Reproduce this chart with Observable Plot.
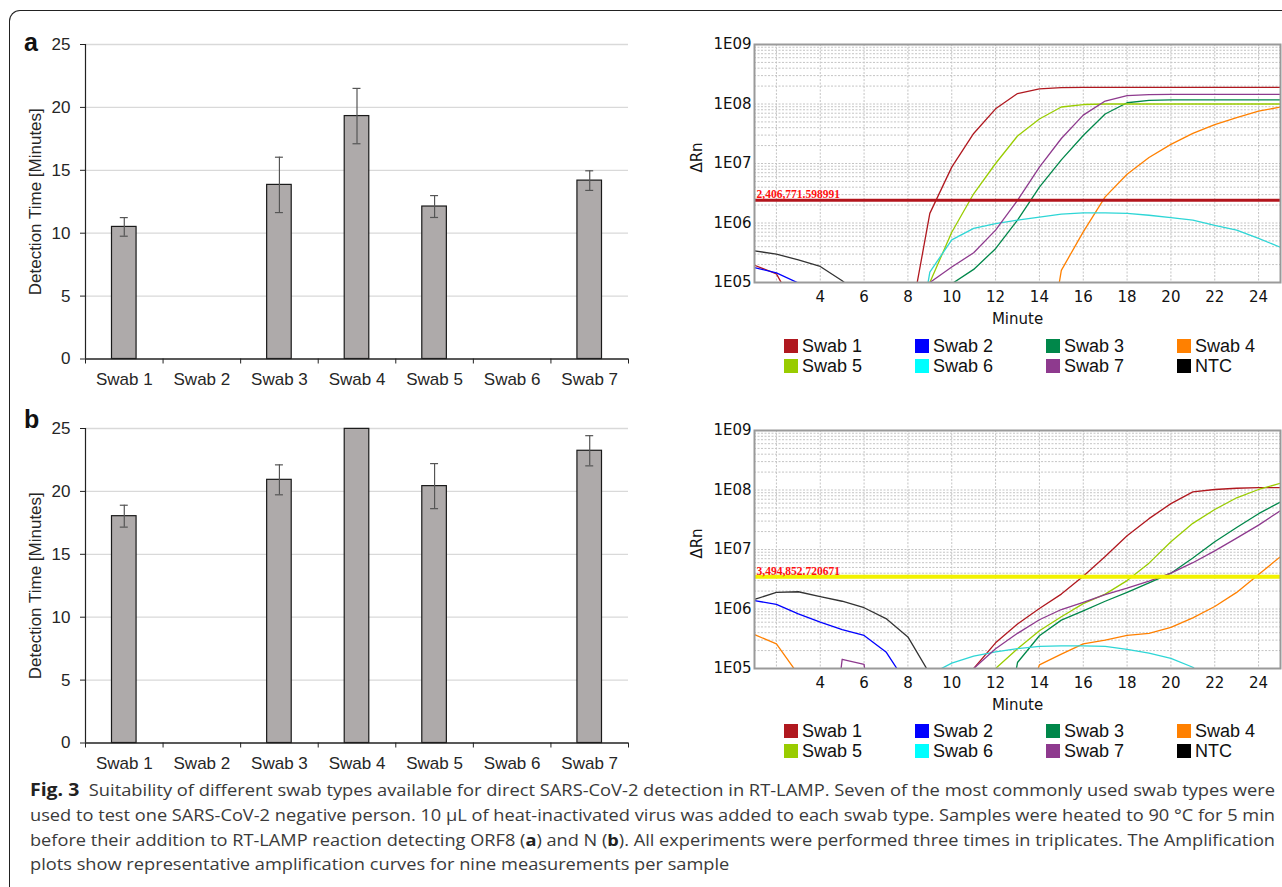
<!DOCTYPE html>
<html><head><meta charset="utf-8">
<script src="https://cdn.jsdelivr.net/npm/d3@7"></script>
<script src="https://cdn.jsdelivr.net/npm/@observablehq/plot@0.6"></script>
<style>
body{margin:0;background:#fff;}
#page{position:relative;width:1282px;height:887px;overflow:hidden;background:#fff;font-family:"Liberation Sans",Arial,sans-serif;}
.border{position:absolute;left:9px;top:10px;width:1300px;height:900px;border-left:1.3px solid #222;border-top:1.3px solid #222;border-top-left-radius:11px;}
.letter{position:absolute;font-weight:bold;font-size:25px;color:#111;font-family:"Liberation Sans",Arial,sans-serif;line-height:1;}
.leg{position:absolute;font-size:18px;color:#111;line-height:20px;white-space:nowrap;font-family:"Liberation Sans",Arial,sans-serif;}
.leg span.sw{display:inline-block;width:14px;height:14px;vertical-align:-1px;margin-right:4px;}
.cap{position:absolute;left:30px;white-space:nowrap;font-family:"Open Sans",sans-serif;font-size:16px;color:#3a3a3a;transform-origin:0 50%;line-height:20px;}
.cap b{color:#222;}
</style></head><body><div id="page"><div class="border"></div></div>
<script>
// ---------- Bar chart data ----------
const swabs = ["Swab 1", "Swab 2", "Swab 3", "Swab 4", "Swab 5", "Swab 6", "Swab 7"];
const orf8Mean = [10.5, 0, 13.84, 19.31, 12.12, 0, 14.18];
const orf8Err  = [0.74, 0, 2.2, 2.2, 0.87, 0, 0.78];
const nMean    = [18.03, 0, 20.92, 24.97, 20.42, 0, 23.23];
const nErr     = [0.87, 0, 1.19, 0, 1.79, 0, 1.2];
const barTicks = [0, 5, 10, 15, 20, 25];

// ---------- Amplification data ----------
const minutes = [1,2,3,4,5,6,7,8,9,10,11,12,13,14,15,16,17,18,19,20,21,22,23,24,25];
const seriesNames = ["Swab 1", "Swab 2", "Swab 3", "Swab 4", "Swab 5", "Swab 6", "Swab 7", "NTC"];
const legendColors = ["#b0181f", "#0000ff", "#00874a", "#ff8000", "#99cc00", "#00ffff", "#8e3a8e", "#000000"];
const lineColors   = ["#b0181f", "#0000ff", "#00874a", "#ff8000", "#99cc00", "#2ed6d6", "#8e3a8e", "#333333"];
const ampXTicks = [4, 6, 8, 10, 12, 14, 16, 18, 20, 22, 24];
const ampXGrid = [2, 4, 6, 8, 10, 12, 14, 16, 18, 20, 22, 24];
const ampYTicks = [1e5, 1e6, 1e7, 1e8, 1e9];
const ampYLabels = ["1E05", "1E06", "1E07", "1E08", "1E09"];
const thresholds = [2406771.598991, 3494852.720671];
const thresholdLabels = ["2,406,771.598991", "3,494,852.720671"];
const thresholdColors = ["#b3141c", "#f2f200"];

// panel a (ORF8)
const a_swab1 = [1.95e5, 1.40e5, 3.0e4, null, null, null, null, 1.4e4, 1.45e6, 8.7e6, 3.2e7, 8.3e7, 1.5e8, 1.8e8, 1.88e8, 1.9e8, 1.9e8, 1.9e8, 1.9e8, 1.9e8, 1.9e8, 1.9e8, 1.9e8, 1.9e8, 1.9e8];
const a_swab2 = [1.78e5, 1.45e5, 9.8e4, 3.0e4, null, null, null, null, null, null, null, null, null, null, null, null, null, null, null, null, null, null, null, null, null];
const a_swab3 = [null, null, null, null, null, null, null, null, null, 9.5e4, 1.66e5, 3.7e5, 1.12e6, 4.0e6, 1.15e7, 2.95e7, 6.8e7, 1.05e8, 1.15e8, 1.17e8, 1.17e8, 1.17e8, 1.17e8, 1.17e8, 1.17e8];
const a_swab4 = [null, null, null, null, null, null, null, null, null, null, null, null, null, 1e3, 1.6e5, 7.1e5, 2.75e6, 6.6e6, 1.26e7, 2.1e7, 3.2e7, 4.5e7, 5.9e7, 7.6e7, 8.9e7];
const a_swab5 = [null, null, null, null, null, null, null, null, 1.0e5, 7.0e5, 3.1e6, 1.0e7, 2.9e7, 5.6e7, 8.9e7, 9.8e7, 1.0e8, 1.0e8, 1.0e8, 1.0e8, 1.0e8, 1.0e8, 1.0e8, 1.0e8, 1.0e8];
const a_swab6 = [null, null, null, null, null, null, null, 1e3, 1.5e5, 5.2e5, 8.1e5, 9.8e5, 1.12e6, 1.26e6, 1.41e6, 1.48e6, 1.48e6, 1.45e6, 1.35e6, 1.23e6, 1.12e6, 9.1e5, 7.6e5, 5.5e5, 3.9e5];
const a_swab7 = [null, null, null, null, null, null, null, null, 1.0e5, 1.82e5, 3.16e5, 7.6e5, 2.4e6, 8.7e6, 2.63e7, 6.5e7, 1.12e8, 1.38e8, 1.44e8, 1.45e8, 1.45e8, 1.45e8, 1.45e8, 1.45e8, 1.45e8];
const a_ntc   = [3.4e5, 3.0e5, 2.4e5, 1.86e5, 1.07e5, 5.4e4, null, null, null, null, null, null, null, null, null, null, null, null, null, null, null, null, null, null, null];

// panel b (N)
const b_swab1 = [null, null, null, null, null, null, null, null, null, 1e4, 1.0e5, 2.7e5, 5.6e5, 1.02e6, 1.78e6, 3.55e6, 7.6e6, 1.7e7, 3.3e7, 5.9e7, 9.3e7, 1.02e8, 1.07e8, 1.1e8, 1.1e8];
const b_swab2 = [1.38e6, 1.2e6, 8.3e5, 6.0e5, 4.5e5, 3.6e5, 1.9e5, 5.2e4, null, null, null, null, null, null, null, null, null, null, null, null, null, null, null, null, null];
const b_swab3 = [null, null, null, null, null, null, null, null, null, null, null, 1e3, 1.26e5, 3.55e5, 6.5e5, 9.3e5, 1.35e6, 1.9e6, 2.75e6, 4.0e6, 7.2e6, 1.35e7, 2.35e7, 4.0e7, 6.3e7];
const b_swab4 = [3.7e5, 2.6e5, 7.9e4, null, null, null, null, null, null, null, null, null, 1e4, 1.15e5, 1.74e5, 2.6e5, 3.0e5, 3.6e5, 3.9e5, 4.9e5, 7.1e5, 1.1e6, 1.9e6, 3.8e6, 7.6e6];
const b_swab5 = [null, null, null, null, null, null, null, null, null, null, null, 1.0e5, 2.15e5, 4.3e5, 7.4e5, 1.23e6, 1.78e6, 3.0e6, 5.9e6, 1.35e7, 2.75e7, 4.7e7, 7.4e7, 1.02e8, 1.3e8];
const b_swab6 = [null, null, null, null, null, null, null, null, 7.9e4, 1.23e5, 1.62e5, 1.9e5, 2.15e5, 2.35e5, 2.4e5, 2.4e5, 2.35e5, 2.1e5, 1.82e5, 1.48e5, 1.05e5, 5.0e4, null, null, null];
const b_swab7 = [null, null, null, 1e2, 1.43e5, 1.17e5, 1e2, null, null, 1e4, 1.0e5, 2.15e5, 3.9e5, 6.6e5, 9.8e5, 1.29e6, 1.74e6, 2.24e6, 2.95e6, 4.0e6, 6.0e6, 9.5e6, 1.55e7, 2.57e7, 4.5e7];
const b_ntc   = [1.45e6, 1.9e6, 1.95e6, 1.62e6, 1.35e6, 1.05e6, 6.9e5, 3.4e5, 8.1e4, null, null, null, null, null, null, null, null, null, null, null, null, null, null, null, null];

const seriesA = [a_swab1, a_swab2, a_swab3, a_swab4, a_swab5, a_swab6, a_swab7, a_ntc];
const seriesB = [b_swab1, b_swab2, b_swab3, b_swab4, b_swab5, b_swab6, b_swab7, b_ntc];

const page = document.getElementById("page");
function place(el, left, top) {
  el.style.position = "absolute";
  el.style.left = left + "px";
  el.style.top = top + "px";
  page.appendChild(el);
  return el;
}

// ---------- Bar chart ----------
function barChart(means, errs) {
  const rows = swabs.map((s, i) => ({s, i, m: means[i], e: errs[i]}));
  const withErr = rows.filter(d => d.e > 0);
  return Plot.plot({
    width: 650, height: 400,
    marginLeft: 85, marginRight: 22, marginTop: 44, marginBottom: 41.5,
    style: {fontFamily: "'Liberation Sans', Arial, sans-serif", fontSize: "17px", color: "#262626", background: "transparent", overflow: "visible"},
    x: {domain: [0, 7], axis: null},
    y: {domain: [0, 25], axis: null},
    marks: [
      Plot.ruleY(barTicks.filter(d => d > 0), {stroke: "#d9d9d9", strokeWidth: 1.3}),
      Plot.rectY(rows, {x1: "i", x2: d => d.i + 1, y1: 0, y2: "m", insetLeft: 26.5, insetRight: 26.5, fill: "#aeaaaa", stroke: "#1a1a1a", strokeWidth: 1.2}),
      Plot.ruleX(withErr, {x: d => d.i + 0.5, y1: d => d.m - d.e, y2: d => d.m + d.e, stroke: "#555", strokeWidth: 1.2}),
      Plot.ruleY(withErr, {x1: "i", x2: d => d.i + 1, y: d => d.m + d.e, insetLeft: 34.8, insetRight: 34.8, stroke: "#555", strokeWidth: 1.2}),
      Plot.ruleY(withErr, {x1: "i", x2: d => d.i + 1, y: d => d.m - d.e, insetLeft: 34.8, insetRight: 34.8, stroke: "#555", strokeWidth: 1.2}),
      Plot.ruleX([0], {stroke: "#222", strokeWidth: 1.2}),
      Plot.ruleY([0], {stroke: "#222", strokeWidth: 1.5}),
      Plot.axisY({ticks: barTicks, tickSize: 5, tickPadding: 10, label: null, stroke: "#222"}),
      Plot.axisX({ticks: [0, 1, 2, 3, 4, 5, 6, 7], tickSize: 5, tickFormat: () => "", label: null, stroke: "#222"}),
      Plot.axisX({ticks: swabs.map((s, i) => i + 0.5), tickSize: 0, tickPadding: 14, tickFormat: v => swabs[Math.floor(v)], label: null}),
      Plot.text(["Detection Time [Minutes]"], {frameAnchor: "left", textAnchor: "middle", lineAnchor: "middle", dx: -50, rotate: -90, fontSize: 17, fill: "#262626"})
    ]
  });
}

// ---------- Amplification chart ----------
function ampChart(series, k) {
  const rows = [];
  seriesNames.forEach((name, s) => series[s].forEach((v, j) => rows.push({series: name, t: minutes[j], v: v == null ? NaN : v})));
  const minor = d3.scaleLog().domain([1e5, 1e9]).ticks().filter(v => v > 1e5 && v < 1e9);
  return Plot.plot({
    width: 602, height: 330,
    marginLeft: 74, marginRight: 2, marginTop: 44, marginBottom: 48,
    style: {fontFamily: "'DejaVu Sans', Verdana, sans-serif", fontSize: "15px", color: "#111", background: "transparent", overflow: "visible"},
    x: {domain: [1, 25], axis: null},
    y: {type: "log", domain: [1e5, 1e9], axis: null},
    color: {domain: seriesNames, range: lineColors},
    marks: [
      Plot.ruleY(minor, {stroke: "#c4c4c4", strokeWidth: 1, strokeDasharray: "2,1.5"}),
      Plot.ruleX(ampXGrid, {stroke: "#c4c4c4", strokeWidth: 1, strokeDasharray: "2,1.5"}),
      Plot.line(rows, {x: "t", y: "v", z: "series", stroke: "series", strokeWidth: 1.3, clip: true}),
      Plot.ruleY([thresholds[k]], {stroke: thresholdColors[k], strokeWidth: k === 0 ? 3 : 4}),
      Plot.text([thresholds[k]], {y: d => d, frameAnchor: "left", text: () => thresholdLabels[k], textAnchor: "start", lineAnchor: "bottom", dx: 2, dy: -2, fill: "#ff1010", fontWeight: "bold", fontFamily: "'Liberation Serif', 'Times New Roman', serif", fontSize: 11.5}),
      Plot.frame({stroke: "#9a9a9a", strokeWidth: 2}),
      Plot.axisY({ticks: ampYTicks, tickSize: 0, tickPadding: 3, tickFormat: v => ampYLabels[ampYTicks.indexOf(v)], label: null}),
      Plot.axisX({ticks: ampXTicks, tickSize: 0, tickPadding: 9, tickFormat: d => String(d), label: null}),
      Plot.text(["Minute"], {frameAnchor: "bottom", dy: 37, lineAnchor: "middle", fontSize: 15, fill: "#111"}),
      Plot.text(["ΔRn"], {frameAnchor: "left", textAnchor: "middle", lineAnchor: "middle", dx: -57, dy: -6, rotate: -90, fontSize: 15, fill: "#111"})
    ]
  });
}

function legend(top) {
  const cols = [784, 915, 1046, 1177];
  seriesNames.forEach((name, i) => {
    const d = document.createElement("div");
    d.className = "leg";
    d.innerHTML = `<span class="sw" style="background:${legendColors[i]}"></span>${name}`;
    place(d, cols[i % 4], top + Math.floor(i / 4) * 20);
  });
}

function letter(txt, left, top) {
  const d = document.createElement("div");
  d.className = "letter";
  d.textContent = txt;
  place(d, left, top);
}

place(barChart(orf8Mean, orf8Err), 0, 0);
place(barChart(nMean, nErr), 0, 384);
place(ampChart(seriesA, 0), 680, 0);
place(ampChart(seriesB, 1), 680, 386);
legend(336);
legend(721);
letter("a", 24, 30);
letter("b", 24, 407);

// ---------- Caption ----------
const captionLines = [
  "<b style=\"font-size:17px\">Fig. 3</b>&nbsp; Suitability of different swab types available for direct SARS-CoV-2 detection in RT-LAMP. Seven of the most commonly used swab types were",
  "used to test one SARS-CoV-2 negative person. 10 µL of heat-inactivated virus was added to each swab type. Samples were heated to 90 °C for 5 min",
  "before their addition to RT-LAMP reaction detecting ORF8 (<b>a</b>) and N (<b>b</b>). All experiments were performed three times in triplicates. The Amplification",
  "plots show representative amplification curves for nine measurements per sample"
];
const capTops = [780, 805, 830, 854];
const capTargets = [1245, 1245, 1245, null];
let scales = [];
const capEls = captionLines.map((html, i) => {
  const d = document.createElement("div");
  d.className = "cap";
  d.innerHTML = html;
  place(d, 30, capTops[i]);
  return d;
});
capEls.forEach((d, i) => {
  if (capTargets[i]) {
    const w = d.getBoundingClientRect().width;
    const s = capTargets[i] / w;
    scales.push(s);
    d.style.transform = `scaleX(${s})`;
  }
});
const avg = d3.mean(scales);
capEls[3].style.transform = `scaleX(${avg})`;
</script></body></html>
